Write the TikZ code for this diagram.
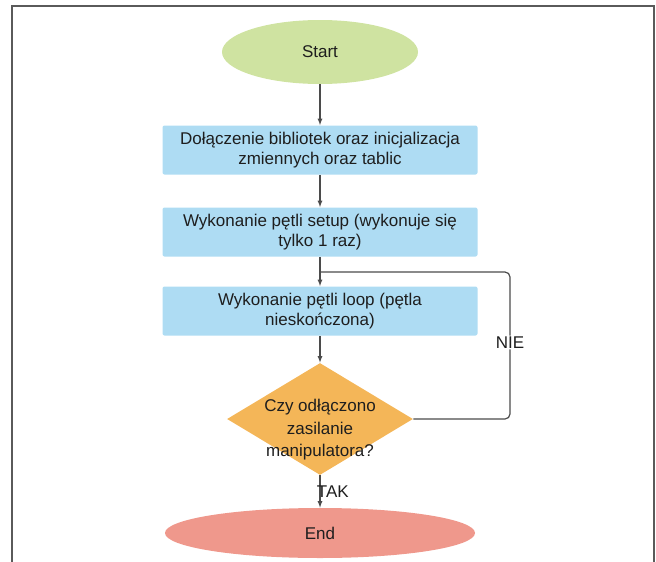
\documentclass[tikz,border=0pt]{standalone}
\usepackage{fontspec}
\setmainfont{Liberation Sans}
\usetikzlibrary{shapes,arrows}

\definecolor{startgreen}{RGB}{207,227,161}
\definecolor{boxblue}{RGB}{174,220,243}
\definecolor{askorange}{RGB}{244,182,88}
\definecolor{endred}{RGB}{239,152,140}
\definecolor{linegray}{RGB}{75,75,75}
\definecolor{framegray}{RGB}{90,90,90}
\definecolor{textgray}{RGB}{30,30,30}

\begin{document}
\begin{tikzpicture}[x=1pt, y=-1pt, thick, font=\fontsize{17}{20}\selectfont, text=textgray]
\tikzset{
  terminal/.style={ellipse, inner sep=0pt},
  block/.style={rectangle, fill=boxblue, rounded corners=2pt, minimum width=315pt, minimum height=49pt, inner sep=0pt, align=center},
  decision/.style={diamond, fill=askorange, minimum width=186pt, minimum height=112pt, inner sep=0pt},
  flow/.style={draw=linegray, line width=1.2pt, -latex},
  loopline/.style={draw=linegray, line width=1.2pt, rounded corners=5pt}
}
\useasboundingbox (0,0) rectangle (656,562);
\draw[framegray, line width=1.5pt] (12,562) -- (12,6) -- (654,6) -- (654,562);

% nodes
\node[terminal, fill=startgreen, minimum width=196pt, minimum height=64pt] (start) at (320,52) {Start};
\node[block] (init) at (320,150) {Dołączenie bibliotek oraz inicjalizacja\\zmiennych oraz tablic};
\node[block] (setup) at (320,232) {Wykonanie pętli setup (wykonuje się\\tylko 1 raz)};
\node[block] (loop) at (320,311) {Wykonanie pętli loop (pętla\\nieskończona)};
\node[decision] (check) at (320,419) {};
\node[align=center, inner sep=0pt, font=\fontsize{17}{22.5}\selectfont] (checktext) at (320,430) {Czy odłączono\\zasilanie\\manipulatora?};
\node[terminal, fill=endred, minimum width=310pt, minimum height=50pt] (finish) at (320,533) {End};

\coordinate (loopjoin) at (320,272);
\coordinate (loopcorner) at (510,272);

% connectors
\draw[flow] (start) -- (init);
\draw[flow] (init) -- (setup);
\draw[flow] (setup) -- (loop);
\draw[flow] (loop) -- (check);
\draw[flow] (check) -- node[anchor=west, xshift=-7pt] (yes) {TAK} (finish);
\draw[loopline] (check.east) -| node[pos=0.76, fill=white, inner sep=1pt] (no) {NIE} (loopcorner) -- (loopjoin);
\end{tikzpicture}
\end{document}
